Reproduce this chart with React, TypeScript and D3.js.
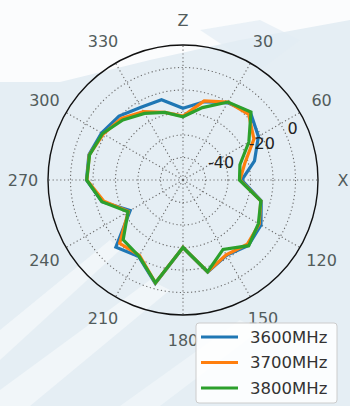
import React from "react";
import * as d3 from "d3";

const angles = [0, 15, 30, 45, 60, 75, 90, 105, 120, 135, 150, 165, 180, 195, 210, 225, 240, 255, 270, 285, 300, 315, 330, 345];
const s3600 = [-28.1, -24, -20.4, -17.6, -21.3, -27.1, -33.9, -24, -20, -18.9, -21.3, -17.6, -30, -12.4, -20.7, -17.8, -32.9, -22.7, -17.1, -16.7, -18.2, -19.8, -22.7, -23.1];
const s3700 = [-31.6, -23.6, -20, -18.7, -23.6, -31.6, -34.7, -24.2, -20.9, -19.6, -21.6, -17.8, -30, -12.7, -21.3, -20.2, -32, -23.6, -17.3, -16.9, -19.1, -21.3, -24.9, -28.9];
const s3800 = [-31.9, -26.7, -20, -17.3, -26.2, -33.8, -34.9, -24.2, -21.3, -18.7, -24.4, -17.8, -30, -12.7, -20.9, -22.4, -31.8, -22.7, -17.2, -17, -18.7, -22.2, -25.8, -28.9];
const seriesNames = ["3600MHz", "3700MHz", "3800MHz"];
const seriesColors = ["#1f77b4", "#ff7f0e", "#2ca02c"];
const ringValues = [-50, -40, -30, -20, -10];
const rTickLabels = [-40, -20, 0];
const thetaTicks = [0, 30, 60, 90, 120, 150, 180, 210, 240, 270, 300, 330];
const thetaLabels = ["Z", "30", "60", "X", "120", "150", "180", "210", "240", "270", "300", "330"];

const W = 350, H = 406;
const cx = 183, cy = 180, R = 135;

export default function App() {
  const r = d3.scaleLinear().domain([-60, 0]).range([0, R]);
  const rad = (deg: number) => (deg * Math.PI) / 180;
  const pt = (deg: number, rr: number): [number, number] => [cx + rr * Math.sin(rad(deg)), cy - rr * Math.cos(rad(deg))];
  const line = d3
    .lineRadial<[number, number]>()
    .angle((d) => rad(d[0]))
    .radius((d) => r(d[1]))
    .curve(d3.curveLinearClosed);
  const all = [s3600, s3700, s3800];
  const font = "'DejaVu Sans', sans-serif";
  const labelAngle = 65;
  return (
    <svg width={W} height={H} style={{ position: "absolute", left: 0, top: 0 }} fontFamily={font}>
      {/* watermark-like background */}
      <rect x={0} y={0} width={W} height={H} fill="#e5eef4" />
      <polygon points="0,0 350,0 350,20 240,40 150,60 60,82 0,82" fill="#fbfcfd" />
      <polygon points="0,330 0,360 120,250 110,240" fill="#f4f8fa" opacity={0.8} />
      <polygon points="0,390 0,406 30,406 170,290 150,280" fill="#f4f8fa" opacity={0.8} />
      <polygon points="120,406 160,406 260,330 240,320" fill="#f4f8fa" opacity={0.6} />
      <polygon points="200,30 260,70 300,40 260,20" fill="#e2ecf3" opacity={0.7} />
      <g transform={`translate(${cx},${cy})`}>
        {ringValues.map((v) => (
          <circle key={v} r={r(v)} fill="none" stroke="#6a6a6a" strokeWidth={1.1} strokeDasharray="1.2,2.6" />
        ))}
        {thetaTicks.map((t) => {
          const [x, y] = pt(t, R);
          return (
            <line key={t} x1={0} y1={0} x2={x - cx} y2={y - cy} stroke="#6a6a6a" strokeWidth={1.1} strokeDasharray="1.2,2.6" />
          );
        })}
        {all.map((s, i) => (
          <path
            key={i}
            d={line(angles.map((a, j) => [a, s[j]] as [number, number])) || ""}
            fill="none"
            stroke={seriesColors[i]}
            strokeWidth={3.2}
            strokeLinejoin="miter"
          />
        ))}
        <circle r={R} fill="none" stroke="#111" strokeWidth={1.4} />
      </g>
      {rTickLabels.map((v) => {
        const rr = Math.min(r(v) - 3, R - 14);
        const [x, y] = pt(labelAngle, rr);
        return (
          <text key={v} x={x} y={y} textAnchor="middle" dominantBaseline="central" fontSize={16} fill="#222">
            {v}
          </text>
        );
      })}
      {thetaTicks.map((t, i) => {
        const [x, y] = pt(t, R + 25);
        return (
          <text key={t} x={x} y={y} textAnchor="middle" dominantBaseline="central" fontSize={16} fill="#525c5c">
            {thetaLabels[i]}
          </text>
        );
      })}
      <g>
        <rect x={196} y={323} width={141} height={80} rx={3} fill="#ffffff" fillOpacity={0.85} stroke="#cccccc" strokeWidth={1} />
        {seriesNames.map((n, i) => (
          <g key={n}>
            <line x1={201} x2={238} y1={337 + i * 25.5} y2={337 + i * 25.5} stroke={seriesColors[i]} strokeWidth={3} />
            <text x={250} y={337 + i * 25.5} dominantBaseline="central" fontSize={16.5} fill="#333">
              {n}
            </text>
          </g>
        ))}
      </g>
    </svg>
  );
}
